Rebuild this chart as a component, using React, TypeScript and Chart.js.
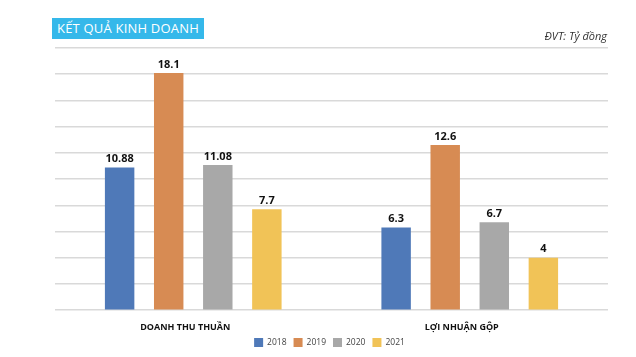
import React, { useEffect, useRef } from "react";
import { Chart, registerables } from "chart.js";

Chart.register(...registerables);

const categories = ["DOANH THU THUẦN", "LỢI NHUẬN GỘP"];
const years = ["2018", "2019", "2020", "2021"];
const values2018 = [10.88, 6.3];
const values2019 = [18.1, 12.6];
const values2020 = [11.08, 6.7];
const values2021 = [7.7, 4];
const colors = ["#4F79B8", "#D78B53", "#A8A8A8", "#F1C357"];

const seriesValues = [values2018, values2019, values2020, values2021];

const FONT = "'Open Sans', 'DejaVu Sans', sans-serif";

const dataLabelPlugin = {
  id: "dataLabels",
  afterDatasetsDraw(chart: any) {
    const ctx = chart.ctx;
    ctx.save();
    ctx.font = `bold 11px ${FONT}`;
    ctx.fillStyle = "#111";
    ctx.textAlign = "center";
    ctx.textBaseline = "bottom";
    chart.data.datasets.forEach((ds: any, di: number) => {
      const meta = chart.getDatasetMeta(di);
      meta.data.forEach((bar: any, i: number) => {
        const v = ds.data[i];
        ctx.fillText(String(v), bar.x, bar.y - 3);
      });
    });
    ctx.restore();
  },
};

const customLegendPlugin = {
  id: "customLegend",
  afterDraw(chart: any) {
    const ctx = chart.ctx;
    ctx.save();
    ctx.font = `8.5px ${FONT}`;
    ctx.textBaseline = "middle";
    ctx.textAlign = "left";
    const box = 9;
    const gap = 4;
    const itemGap = 7;
    const ds = chart.data.datasets;
    const widths = ds.map((d: any) => box + gap + ctx.measureText(d.label).width);
    const total = widths.reduce((a: number, b: number) => a + b, 0) + itemGap * (ds.length - 1);
    const ca = chart.chartArea;
    let x = (ca.left + ca.right) / 2 - 2 - total / 2;
    const y = 342.5;
    ds.forEach((d: any, i: number) => {
      ctx.fillStyle = d.backgroundColor;
      ctx.fillRect(x, y - box / 2, box, box);
      ctx.fillStyle = "#444";
      ctx.fillText(d.label, x + box + gap, y + 0.5);
      x += widths[i] + itemGap;
    });
    ctx.restore();
  },
};

export default function App() {
  const ref = useRef<HTMLCanvasElement>(null);
  useEffect(() => {
    if (!ref.current) return;
    const chart = new Chart(ref.current, {
      type: "bar",
      data: {
        labels: categories,
        datasets: years.map((y, i) => ({
          label: y,
          data: seriesValues[i],
          backgroundColor: colors[i],
          borderWidth: 0,
          barPercentage: 0.6,
          categoryPercentage: 0.71,
        })),
      },
      options: {
        responsive: false,
        animation: false,
        layout: { padding: { top: 48, left: 55, right: 28, bottom: 12 } },
        plugins: {
          tooltip: { enabled: false },
          title: { display: false },
          legend: { display: false },
        },
        scales: {
          x: {
            grid: { display: false, drawTicks: false },
            border: { display: false },
            ticks: {
              padding: 12,
              labelOffset: -8,
              color: "#111",
              font: { family: FONT, size: 9, weight: "bold" },
            },
          },
          y: {
            min: 0,
            max: 20,
            ticks: { display: false, stepSize: 2 },
            grid: { color: "#D9D9D9", lineWidth: 1.5, drawTicks: false },
            border: { display: false },
          },
        },
      },
      plugins: [dataLabelPlugin, customLegendPlugin],
    } as any);
    return () => chart.destroy();
  }, []);

  return (
    <div
      style={{
        position: "fixed",
        left: 0,
        top: 0,
        width: 636,
        height: 357,
        background: "#fff",
        fontFamily: FONT,
      }}
    >
      <canvas ref={ref} width={636} height={357} style={{ display: "block" }} />
      <div
        style={{
          position: "absolute",
          left: 52,
          top: 18,
          width: 152,
          height: 21,
          background: "#35B8EA",
          color: "#fff",
          fontSize: 13,
          lineHeight: "21px",
          textAlign: "center",
          whiteSpace: "nowrap",
          letterSpacing: 0.2,
        }}
      >
        KẾT QUẢ KINH DOANH
      </div>
      <div
        style={{
          position: "absolute",
          right: 29,
          top: 28,
          color: "#333",
          fontSize: 11,
          fontStyle: "italic",
          whiteSpace: "nowrap",
        }}
      >
        ĐVT: Tỷ đồng
      </div>
    </div>
  );
}
